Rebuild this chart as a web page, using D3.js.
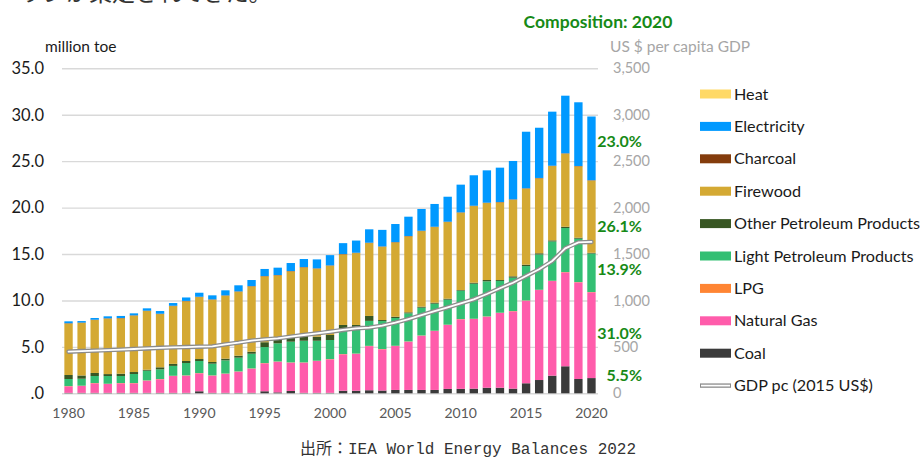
<!DOCTYPE html>
<html>
<head>
<meta charset="utf-8">
<script src="https://cdn.jsdelivr.net/npm/d3@7"></script>
<style>
  body { margin: 0; background: #fff; }
  svg { display: block; font-family: Lato, "Noto Sans", sans-serif; }
</style>
</head>
<body>
<svg width="920" height="459"></svg>
<script>
// 年
const years = d3.range(1980, 2021)

// million toe, 系列ごと (下から積む順)
const coal = [0.05,0.05,0.05,0.05,0.05,0.05,0.05,0.05,0.05,0.05,0.22,0.05,0.05,0.05,0.05,0.22,0.10,0.25,0.05,0.05,0.05,0.28,0.28,0.33,0.30,0.36,0.36,0.36,0.36,0.47,0.48,0.50,0.60,0.60,0.50,1.08,1.43,1.90,2.91,1.54,1.64]
const natGas = [0.70,0.74,1.03,0.95,1.03,1.03,1.31,1.46,1.81,1.85,1.93,1.85,2.05,2.28,2.60,3.01,3.30,3.05,3.25,3.43,3.61,3.92,3.97,4.75,4.44,4.73,5.20,5.84,6.35,6.89,7.49,7.50,7.65,8.05,8.33,8.89,9.69,10.19,10.12,10.41,9.24]
const lpg = [0.03,0.03,0.03,0.03,0.03,0.03,0.03,0.03,0.03,0.03,0.03,0.03,0.03,0.03,0.03,0.03,0.03,0.03,0.03,0.03,0.03,0.03,0.03,0.03,0.03,0.03,0.03,0.03,0.03,0.03,0.03,0.03,0.03,0.03,0.03,0.03,0.03,0.03,0.03,0.03,0.03]
const lightPet = [0.76,0.75,0.75,0.83,0.75,0.97,1.04,1.04,1.06,1.33,1.30,1.26,1.42,1.48,1.58,1.72,1.95,2.23,2.33,2.15,2.05,2.57,2.72,2.69,3.01,2.99,3.02,2.99,2.91,2.69,3.05,3.77,3.78,3.42,3.59,3.70,3.80,4.23,4.74,4.67,4.14]
const otherPet = [0.43,0.35,0.33,0.21,0.25,0.21,0.11,0.22,0.22,0.22,0.21,0.18,0.18,0.21,0.22,0.52,0.54,0.54,0.73,0.44,0.54,0.56,0.36,0.53,0.11,0.14,0.11,0.11,0.11,0.11,0.07,0.11,0.14,0.10,0.15,0.15,0.13,0.12,0.14,0.11,0.08]
const firewood = [5.54,5.66,5.70,5.97,5.96,6.07,6.32,5.73,6.22,6.43,6.67,6.71,6.78,6.89,7.03,7.09,6.78,7.03,7.17,7.32,7.46,7.60,7.74,7.85,7.89,8.00,8.18,8.14,8.14,8.25,8.33,8.25,8.29,8.36,8.25,8.19,8.07,8.00,7.87,7.68,7.78]
const charcoal = [0.04,0.04,0.04,0.04,0.04,0.04,0.04,0.04,0.04,0.04,0.04,0.04,0.04,0.04,0.04,0.04,0.04,0.04,0.04,0.04,0.04,0.04,0.04,0.04,0.04,0.04,0.04,0.04,0.04,0.04,0.04,0.04,0.04,0.04,0.04,0.04,0.04,0.04,0.04,0.04,0.04]
const electricity = [0.20,0.16,0.18,0.21,0.22,0.21,0.25,0.29,0.29,0.37,0.43,0.43,0.54,0.65,0.65,0.76,0.79,0.86,0.86,0.96,1.10,1.17,1.31,1.44,1.78,1.94,2.08,2.34,2.45,2.69,2.98,3.28,3.48,3.70,4.13,6.09,5.41,5.82,6.20,6.86,6.86]
const heat = [0,0,0,0,0,0,0,0,0,0,0,0,0,0,0,0,0,0,0,0,0,0,0,0,0,0,0,0,0,0,0,0,0,0,0,0,0,0,0,0,0]

// 一人当たりGDP (2015 US$)
const gdpPc = [448,455,460,465,470,477,483,490,495,498,502,505,527,545,567,581,592,610,628,646,663,682,700,707,728,760,800,843,886,926,969,1012,1069,1131,1191,1263,1335,1425,1561,1626,1630]

const leftTicks = [0, 5, 10, 15, 20, 25, 30, 35]
const rightTicks = [0, 500, 1000, 1500, 2000, 2500, 3000, 3500]
const yearTicks = [1980, 1985, 1990, 1995, 2000, 2005, 2010, 2015, 2020]

const series = [
  {key: 'coal', name: 'Coal', values: coal, color: '#3a3a3a'},
  {key: 'natGas', name: 'Natural Gas', values: natGas, color: '#ff5cab'},
  {key: 'lpg', name: 'LPG', values: lpg, color: '#ff8533'},
  {key: 'lightPet', name: 'Light Petroleum Products', values: lightPet, color: '#33bf73'},
  {key: 'otherPet', name: 'Other Petroleum Products', values: otherPet, color: '#385723'},
  {key: 'firewood', name: 'Firewood', values: firewood, color: '#d4a933'},
  {key: 'charcoal', name: 'Charcoal', values: charcoal, color: '#843c0c'},
  {key: 'electricity', name: 'Electricity', values: electricity, color: '#0099ff'},
  {key: 'heat', name: 'Heat', values: heat, color: '#ffd966'}
]

// 表形式にする (stack用)
const table = years.map((yr, i) => {
  const row = {year: yr}
  series.forEach(s => { row[s.key] = s.values[i] })
  return row
})

const svg = d3.select('svg')
const plotLeft = 62, plotRight = 598, plotTop = 68.3, plotBottom = 393.3

const x = d3.scaleBand().domain(years).range([plotLeft, plotRight]).paddingInner(0.36).paddingOuter(0.18)
const y = d3.scaleLinear().domain([0, 35]).range([plotBottom, plotTop])
const y2 = d3.scaleLinear().domain([0, 3500]).range([plotBottom, plotTop])

// グリッド線
const grid = svg.append('g').attr('transform', `translate(${plotLeft},0)`)
  .call(d3.axisLeft(y).tickValues(leftTicks).tickSize(-(plotRight - plotLeft)).tickFormat(''))
grid.select('.domain').remove()
grid.selectAll('line').attr('stroke', '#d9d9d9').attr('stroke-width', 1.4)

// 積み上げ棒
const stacked = d3.stack().keys(series.map(s => s.key))(table)
svg.append('g').selectAll('g')
  .data(stacked)
  .join('g')
  .attr('fill', d => series[d.index].color)
  .selectAll('rect')
  .data(d => d)
  .join('rect')
  .attr('x', d => x(d.data.year))
  .attr('width', x.bandwidth())
  .attr('y', d => y(d[1]))
  .attr('height', d => y(d[0]) - y(d[1]))

// GDP 二重線
const line = d3.line().x((d, i) => x(years[i]) + x.bandwidth() / 2).y(d => y2(d))
svg.append('path').datum(gdpPc).attr('d', line)
  .attr('fill', 'none').attr('stroke', '#8c8c8c').attr('stroke-width', 4.4).attr('stroke-linecap', 'round')
svg.append('path').datum(gdpPc).attr('d', line)
  .attr('fill', 'none').attr('stroke', '#fff').attr('stroke-width', 1.8).attr('stroke-linecap', 'round')

// 左軸
const yAxis = svg.append('g').attr('transform', `translate(${plotLeft},0)`)
  .call(d3.axisLeft(y).tickValues(leftTicks).tickSize(0).tickPadding(18)
    .tickFormat(d => d === 0 ? '.0' : d3.format('.1f')(d)))
yAxis.select('.domain').remove()
yAxis.selectAll('text').attr('font-size', 16.5).attr('fill', '#1a1a1a').attr('font-family', 'Lato')

// 右軸
const y2Axis = svg.append('g').attr('transform', `translate(${plotRight},0)`)
  .call(d3.axisRight(y2).tickValues(rightTicks).tickSize(0).tickPadding(15).tickFormat(d3.format(',')))
y2Axis.select('.domain').remove()
y2Axis.selectAll('text').attr('font-size', 14.5).attr('fill', '#a6a6a6').attr('font-family', 'Lato')

// x軸
const xAxis = svg.append('g').attr('transform', `translate(0,${plotBottom})`)
  .call(d3.axisBottom(x).tickValues(yearTicks).tickSize(0).tickPadding(15))
xAxis.select('.domain').remove()
xAxis.selectAll('text').attr('font-size', 14).attr('fill', '#595959').attr('font-family', 'Lato')

// 軸タイトル
svg.append('text').attr('x', 45).attr('y', 52).attr('font-size', 15.5).attr('fill', '#1a1a1a').text('million toe')
svg.append('text').attr('x', 610).attr('y', 52).attr('font-size', 15.5).attr('fill', '#a6a6a6').text('US $ per capita GDP')
svg.append('text').attr('x', 598).attr('y', 28).attr('text-anchor', 'middle')
  .attr('font-size', 17.5).attr('font-weight', 'bold').attr('fill', '#178a17').text('Composition: 2020')

// 2020年の構成比ラベル
const last = table[table.length - 1]
const total = d3.sum(series, s => last[s.key])
const labelKeys = ['electricity', 'firewood', 'lightPet', 'natGas', 'coal']
const labelNudge = {electricity: -7, firewood: 10, lightPet: -3, natGas: -2, coal: -10}
const lastStack = {}
stacked.forEach(layer => { lastStack[layer.key] = layer[layer.length - 1] })
svg.append('g').selectAll('text')
  .data(labelKeys)
  .join('text')
  .attr('x', 642)
  .attr('y', k => y((lastStack[k][0] + lastStack[k][1]) / 2) + labelNudge[k])
  .attr('dy', '0.35em')
  .attr('text-anchor', 'end')
  .attr('font-size', 16).attr('font-weight', 'bold').attr('fill', '#178a17')
  .text(k => d3.format('.1f')(last[k] / total * 100) + '%')

// 凡例
const legendTop = 94, legendStep = 32.4
const legendItems = series.slice().reverse()
const legend = svg.append('g').selectAll('g')
  .data(legendItems)
  .join('g')
  .attr('transform', (d, i) => `translate(700,${legendTop + i * legendStep})`)
legend.append('rect').attr('x', 0).attr('y', -4.5).attr('width', 31).attr('height', 9).attr('fill', d => d.color)
legend.append('text').attr('x', 34).attr('y', 0).attr('dy', '0.35em').attr('font-size', 16.2).attr('fill', '#1a1a1a').text(d => d.name)

const gdpLegendY = legendTop + legendItems.length * legendStep
svg.append('line').attr('x1', 700).attr('x2', 731).attr('y1', gdpLegendY).attr('y2', gdpLegendY)
  .attr('stroke', '#8c8c8c').attr('stroke-width', 4.4)
svg.append('line').attr('x1', 701).attr('x2', 730).attr('y1', gdpLegendY).attr('y2', gdpLegendY)
  .attr('stroke', '#fff').attr('stroke-width', 1.8)
svg.append('text').attr('x', 734).attr('y', gdpLegendY).attr('dy', '0.35em').attr('font-size', 16.2).attr('fill', '#1a1a1a').text('GDP pc (2015 US$)')

// 出所
svg.append('text').attr('x', 300).attr('y', 454)
  .attr('font-family', '"Liberation Mono", "Noto Sans CJK JP", monospace')
  .attr('font-size', 16).attr('fill', '#333').text('出所：IEA World Energy Balances 2022')

// 上端で切れている本文
svg.append('text').attr('x', 20).attr('y', 1)
  .attr('font-family', '"Noto Sans CJK JP", sans-serif')
  .attr('font-size', 23).attr('fill', '#333').text('ランが策定されてきた。')
</script>
</body>
</html>
